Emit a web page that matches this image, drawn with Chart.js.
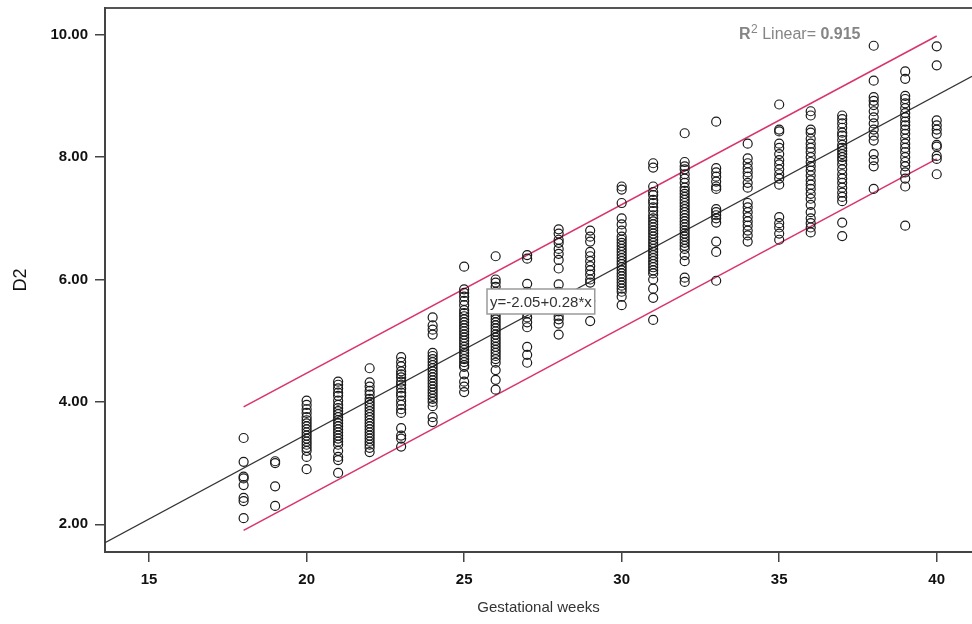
<!DOCTYPE html>
<html><head><meta charset="utf-8">
<script src="https://cdn.jsdelivr.net/npm/chart.js@4.4.1/dist/chart.umd.min.js"></script>
<style>html,body{margin:0;padding:0;background:#fff;overflow:hidden}</style>
</head><body>
<canvas id="c" width="972" height="624"></canvas>
<script>
// ---- data ----
const weeks = [18,19,20,21,22,23,24,25,26,27,28,29,30,31,32,33,34,35,36,37,38,39,40];
const d2ByWeek = [
  [3.41,3.02,2.78,2.75,2.64,2.43,2.38,2.10],
  [3.03,3.00,2.62,2.30],
  [4.02,3.95,3.88,3.82,3.75,3.70,3.65,3.60,3.55,3.50,3.45,3.40,3.35,3.30,3.25,3.20,3.10,2.90],
  [4.33,4.28,4.22,4.15,4.10,4.02,3.95,3.90,3.85,3.80,3.75,3.70,3.65,3.60,3.55,3.50,3.45,3.40,3.35,3.30,3.20,3.10,3.05,2.84],
  [4.55,4.32,4.25,4.18,4.12,4.05,4.00,3.95,3.90,3.85,3.80,3.75,3.70,3.65,3.60,3.55,3.50,3.45,3.40,3.35,3.30,3.25,3.18],
  [4.73,4.65,4.58,4.50,4.45,4.40,4.33,4.28,4.22,4.15,4.10,4.02,3.95,3.88,3.82,3.57,3.45,3.40,3.27],
  [5.38,5.25,5.18,5.10,4.80,4.75,4.70,4.65,4.60,4.55,4.50,4.45,4.40,4.35,4.30,4.25,4.20,4.15,4.10,4.05,4.00,3.93,3.75,3.67],
  [6.21,5.84,5.78,5.72,5.65,5.58,5.50,5.45,5.40,5.35,5.30,5.25,5.20,5.15,5.10,5.05,5.00,4.95,4.90,4.85,4.80,4.75,4.70,4.65,4.60,4.57,4.45,4.33,4.25,4.16],
  [6.38,6.00,5.95,5.88,5.80,5.75,5.70,5.62,5.55,5.50,5.45,5.40,5.35,5.30,5.25,5.20,5.15,5.10,5.05,5.00,4.95,4.90,4.85,4.80,4.75,4.70,4.64,4.52,4.36,4.20],
  [6.40,6.34,5.93,5.80,5.45,5.38,5.30,5.22,4.90,4.77,4.64],
  [6.82,6.75,6.65,6.60,6.50,6.42,6.32,6.18,5.92,5.80,5.48,5.40,5.35,5.28,5.10],
  [6.80,6.70,6.62,6.45,6.38,6.30,6.22,6.15,6.08,6.00,5.95,5.65,5.32],
  [7.52,7.47,7.25,7.00,6.90,6.80,6.70,6.65,6.60,6.55,6.50,6.45,6.40,6.35,6.30,6.25,6.20,6.15,6.10,6.05,6.00,5.95,5.90,5.85,5.80,5.72,5.58],
  [7.90,7.83,7.52,7.43,7.38,7.30,7.25,7.18,7.12,7.05,7.00,6.95,6.90,6.85,6.80,6.75,6.70,6.65,6.60,6.55,6.50,6.45,6.40,6.35,6.30,6.25,6.20,6.15,6.10,6.00,5.85,5.70,5.34],
  [8.39,7.92,7.85,7.80,7.72,7.65,7.58,7.50,7.45,7.40,7.35,7.30,7.25,7.20,7.15,7.10,7.05,7.00,6.95,6.90,6.85,6.80,6.75,6.70,6.65,6.60,6.55,6.50,6.40,6.30,6.03,5.96],
  [8.58,7.82,7.75,7.68,7.60,7.52,7.48,7.15,7.10,7.05,7.00,6.93,6.62,6.45,5.98],
  [8.22,7.98,7.90,7.82,7.75,7.68,7.58,7.50,7.25,7.18,7.10,7.02,6.95,6.88,6.80,6.72,6.62],
  [8.86,8.45,8.42,8.22,8.15,8.05,7.95,7.88,7.80,7.72,7.65,7.55,7.02,6.92,6.85,6.75,6.65],
  [8.75,8.68,8.45,8.40,8.30,8.22,8.15,8.08,8.00,7.92,7.85,7.78,7.70,7.62,7.55,7.48,7.40,7.32,7.22,7.10,7.00,6.92,6.85,6.77],
  [8.68,8.62,8.55,8.48,8.40,8.35,8.28,8.20,8.15,8.10,8.05,8.00,7.95,7.88,7.80,7.72,7.65,7.58,7.50,7.42,7.35,7.28,6.93,6.71],
  [9.82,9.25,8.98,8.92,8.85,8.75,8.65,8.55,8.45,8.35,8.27,8.05,7.95,7.85,7.48],
  [9.40,9.28,9.00,8.95,8.88,8.80,8.72,8.65,8.58,8.52,8.45,8.38,8.30,8.22,8.15,8.08,8.00,7.92,7.85,7.75,7.65,7.52,6.88],
  [9.81,9.50,8.60,8.52,8.45,8.38,8.20,8.17,8.02,7.97,7.72]
];
const xTicks = [15,20,25,30,35,40];
const yTicks = [2,4,6,8,10];
const fitX = [13.6, 41.12];
const fitY = [1.70, 9.32];
const bandX = [18, 40];
const upperY = [3.92, 9.98];
const lowerY = [1.90, 7.97];
const r2Value = '0.915';
const equationText = 'y=-2.05+0.28*x';
const xTitle = 'Gestational weeks';
const yTitle = 'D2';

// ---- build datasets ----
const scatterPts = [];
weeks.forEach((w, i) => d2ByWeek[i].forEach(v => scatterPts.push({x: w, y: v})));
const toPts = (xs, ys) => xs.map((x, i) => ({x, y: ys[i]}));

const FONT = '"Liberation Sans", Arial, sans-serif';
const PINK = '#d9336b';

const annot = {
  id: 'annot',
  afterDatasetsDraw(chart) {
    const ctx = chart.ctx;
    ctx.save();
    // R^2 label
    let x = 739, y = 39;
    ctx.fillStyle = '#858585';
    ctx.textBaseline = 'alphabetic';
    ctx.textAlign = 'left';
    ctx.font = 'bold 16px ' + FONT;
    ctx.fillText('R', x, y); x += ctx.measureText('R').width + 0.5;
    ctx.font = '12px ' + FONT;
    ctx.fillText('2', x, y - 6); x += ctx.measureText('2').width;
    ctx.font = '16px ' + FONT;
    const mid = ' Linear= ';
    ctx.fillText(mid, x, y); x += ctx.measureText(mid).width;
    ctx.font = 'bold 16px ' + FONT;
    ctx.fillText(r2Value, x, y);
    // equation box
    ctx.font = '15px ' + FONT;
    const tw = ctx.measureText(equationText).width;
    const bx = 487, by = 289, bw = tw + 6, bh = 25;
    ctx.fillStyle = '#fff';
    ctx.fillRect(bx, by, bw, bh);
    ctx.strokeStyle = '#9a9a9a';
    ctx.lineWidth = 1.5;
    ctx.strokeRect(bx, by, bw, bh);
    ctx.fillStyle = '#333';
    ctx.textBaseline = 'middle';
    ctx.fillText(equationText, bx + 3, by + bh / 2 + 1);
    ctx.restore();
  }
};

new Chart(document.getElementById('c'), {
  type: 'scatter',
  data: {
    datasets: [
      {data: scatterPts, pointStyle: 'circle', pointRadius: 4.5, pointBorderWidth: 1.2,
       borderColor: '#1a1a1a', backgroundColor: 'rgba(0,0,0,0)', order: 1},
      {type: 'line', data: toPts(fitX, fitY), borderColor: '#333', borderWidth: 1.2,
       pointRadius: 0, fill: false, order: 2},
      {type: 'line', data: toPts(bandX, upperY), borderColor: PINK, borderWidth: 1.5,
       pointRadius: 0, fill: false, order: 2},
      {type: 'line', data: toPts(bandX, lowerY), borderColor: PINK, borderWidth: 1.5,
       pointRadius: 0, fill: false, order: 2}
    ]
  },
  options: {
    responsive: false, animation: false, devicePixelRatio: 1,
    layout: {padding: 0, autoPadding: false},
    plugins: {legend: {display: false}, tooltip: {enabled: false}},
    scales: {
      x: {
        type: 'linear', position: 'bottom', min: 13.6, max: 41.12,
        afterBuildTicks: s => { s.ticks = xTicks.map(v => ({value: v})); },
        afterFit: s => { s.height = 72; s.paddingLeft = 0; s.paddingRight = 0; },
        grid: {display: true, drawOnChartArea: false, drawTicks: true, tickLength: 10, color: '#444', lineWidth: 1.5},
        border: {display: true, color: '#444', width: 2},
        ticks: {color: '#111', font: {family: FONT, size: 15, weight: 'bold'}, padding: 9, maxRotation: 0},
        title: {display: true, text: xTitle, color: '#333', font: {family: FONT, size: 15}, padding: {top: 0, bottom: 7}}
      },
      x2: {
        type: 'linear', position: 'top', min: 13.6, max: 41.12,
        afterFit: s => { s.height = 8; s.paddingLeft = 0; s.paddingRight = 0; },
        grid: {display: false},
        border: {display: true, color: '#555', width: 2},
        ticks: {display: false}
      },
      y: {
        type: 'linear', position: 'left', min: 1.547, max: 10.437,
        afterBuildTicks: s => { s.ticks = yTicks.map(v => ({value: v})); },
        afterFit: s => { s.width = 105; s.paddingTop = 0; s.paddingBottom = 0; },
        grid: {display: true, drawOnChartArea: false, drawTicks: true, tickLength: 10, color: '#444', lineWidth: 1.5},
        border: {display: true, color: '#444', width: 2},
        ticks: {color: '#111', font: {family: FONT, size: 15, weight: 'bold'}, padding: 7,
                callback: v => v.toFixed(2)},
        title: {display: true, text: yTitle, color: '#111', font: {family: FONT, size: 18}, padding: {top: 10, bottom: 0}}
      }
    }
  },
  plugins: [annot]
});
</script>
</body></html>
